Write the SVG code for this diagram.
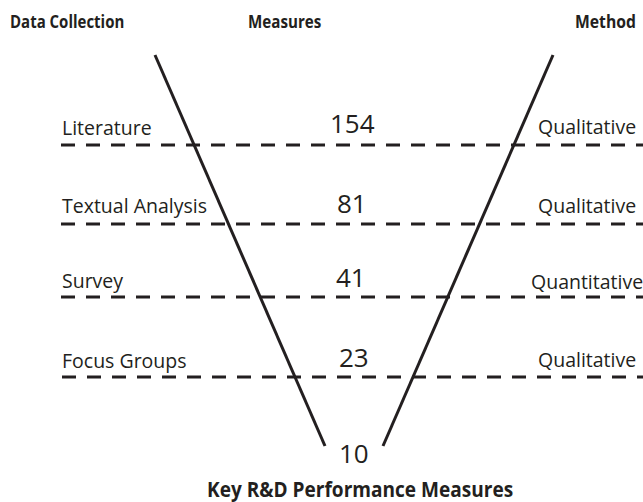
<svg xmlns="http://www.w3.org/2000/svg" width="643" height="502" viewBox="0 0 643 502">
<style>
.hdr{font-family:"Open Sans","Liberation Sans",sans-serif;font-weight:bold;font-size:18.5px;fill:#231f20}
.ttl{font-family:"Open Sans","Liberation Sans",sans-serif;font-weight:bold;font-size:20.5px;fill:#231f20}
.lbl{font-family:"Open Sans","Liberation Sans",sans-serif;font-size:19.5px;fill:#231f20}
.num{font-family:"Open Sans","Liberation Sans",sans-serif;font-size:26px;fill:#231f20}
.dash{stroke:#231f20;stroke-width:3;stroke-dasharray:14 11;fill:none}
.v{stroke:#231f20;stroke-width:3;fill:none}
</style>
<rect width="643" height="502" fill="#fff"/>
<g id="headers">
<text class="hdr" transform="translate(10,28) scale(0.81,1)">Data Collection</text>
<text class="hdr" transform="translate(248,28) scale(0.82,1)">Measures</text>
<text class="hdr" transform="translate(575,28) scale(0.85,1)">Method</text>
<text class="ttl" transform="translate(207,497) scale(0.93,1)">Key R&amp;D Performance Measures</text>
</g>
<g id="connectors">
<line class="v" x1="155" y1="55" x2="325" y2="446"/>
<line class="v" x1="553" y1="55" x2="383" y2="446"/>
<line class="dash" x1="61" y1="145" x2="643" y2="145"/>
<line class="dash" x1="61" y1="224" x2="643" y2="224"/>
<line class="dash" x1="61" y1="297" x2="643" y2="297"/>
<line class="dash" x1="62" y1="377" x2="643" y2="377"/>
</g>
<g id="literature">
<text class="lbl" x="62" y="135">Literature</text>
<text class="num" x="330" y="133">154</text>
<text class="lbl" x="538" y="134">Qualitative</text>
</g>
<g id="textual">
<text class="lbl" x="62" y="213">Textual Analysis</text>
<text class="num" x="337" y="213">81</text>
<text class="lbl" x="538" y="213">Qualitative</text>
</g>
<g id="survey">
<text class="lbl" x="62" y="288">Survey</text>
<text class="num" x="336" y="287">41</text>
<text class="lbl" x="531" y="289">Quantitative</text>
</g>
<g id="focus">
<text class="lbl" x="62" y="368">Focus Groups</text>
<text class="num" x="339" y="367">23</text>
<text class="lbl" x="538" y="367">Qualitative</text>
</g>
<g id="final">
<text class="num" x="339" y="463">10</text>
</g>
</svg>
